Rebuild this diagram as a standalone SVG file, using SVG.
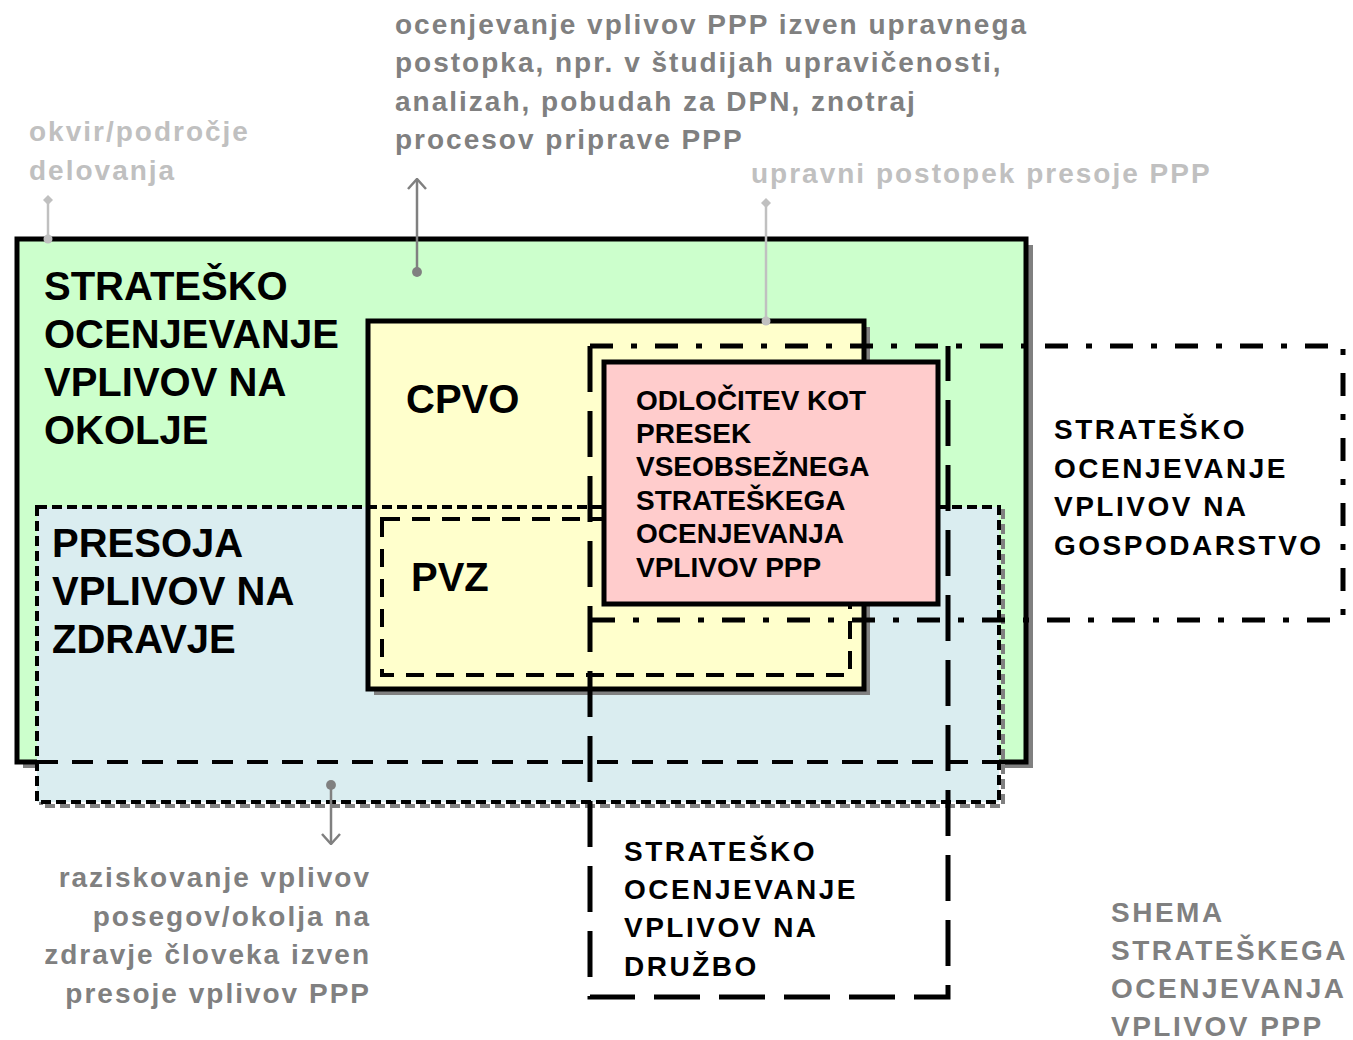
<svg xmlns="http://www.w3.org/2000/svg" width="1353" height="1040" viewBox="0 0 1353 1040">
<defs>
<style>
text{font-family:"Liberation Sans",Arial,sans-serif;font-weight:bold}
.big{font-size:40px;fill:#000}
.pink{font-size:28px;fill:#000}
.sp{font-size:28px;fill:#000;letter-spacing:2.5px}
.shema{font-size:28px;fill:#808080;letter-spacing:2.5px}
.note{font-size:28px;fill:#808080;letter-spacing:2px}
.note2{font-size:28px;fill:#C0C0C0;letter-spacing:2px}
.solid{stroke:#000;stroke-width:5}
.shadow{fill:#808080}
.c1{stroke:#C0C0C0;stroke-width:2.5;fill:none}
.c2{stroke:#808080;stroke-width:2.5;fill:none}
</style>
<marker id="dotL" viewBox="0 0 10 10" refX="5" refY="5" markerWidth="10" markerHeight="10" markerUnits="userSpaceOnUse"><circle cx="5" cy="5" r="4.5" fill="#C0C0C0"/></marker>
<marker id="diaL" viewBox="0 0 10 10" refX="5" refY="5" markerWidth="10" markerHeight="10" markerUnits="userSpaceOnUse"><path d="M5 0 L10 5 L5 10 L0 5 Z" fill="#C0C0C0"/></marker>
<marker id="dotD" viewBox="0 0 10 10" refX="5" refY="5" markerWidth="11" markerHeight="11" markerUnits="userSpaceOnUse"><circle cx="5" cy="5" r="4.5" fill="#808080"/></marker>
<marker id="arrD" viewBox="0 0 12 20" refX="11" refY="10" markerWidth="12" markerHeight="20" markerUnits="userSpaceOnUse" orient="auto"><path d="M1 1 L11 10 L1 19" fill="none" stroke="#808080" stroke-width="2.5"/></marker>
</defs>
<rect width="1353" height="1040" fill="#fff"/>

<g id="sovo">
<rect class="shadow" x="23" y="245" width="1010" height="523"/>
<rect x="17" y="239" width="1009" height="523" fill="#CCFFCC" class="solid"/>
</g>

<g id="pvz-area">
<rect x="41" y="511" width="962" height="295" fill="none" stroke="#808080" stroke-width="4" stroke-dasharray="10 5"/>
<rect x="37" y="507" width="962" height="295" fill="#DAEDF0"/>
<line x1="37" y1="762" x2="999" y2="762" stroke="#000" stroke-width="4" stroke-dasharray="21 14"/>
</g>

<g id="cpvo">
<rect class="shadow" x="374" y="327" width="496" height="368"/>
<rect x="368" y="321" width="496" height="368" fill="#FFFFCC" class="solid"/>
</g>

<g id="pvz-outline">
<rect x="37" y="507" width="962" height="295" fill="none" stroke="#000" stroke-width="4" stroke-dasharray="10 5"/>
</g>

<g id="pvz">
<rect x="382" y="519" width="468" height="156" fill="none" stroke="#000" stroke-width="4" stroke-dasharray="18 12"/>
</g>

<g id="odlocitev">
<rect x="604" y="362" width="334" height="242" fill="#FFCCCC" class="solid"/>
</g>

<g id="gospodarstvo">
<path d="M590 346 H1343 V620 H590" fill="none" stroke="#000" stroke-width="5" stroke-dasharray="23 18 6 18"/>
</g>

<g id="druzba">
<path d="M590 346 V997 H948 V346" fill="none" stroke="#000" stroke-width="5" stroke-dasharray="46 19"/>
</g>

<g id="connectors">
<line class="c1" x1="48" y1="239" x2="48" y2="200" marker-start="url(#dotL)" marker-end="url(#diaL)"/>
<line class="c1" x1="766" y1="321" x2="766" y2="203" marker-start="url(#dotL)" marker-end="url(#diaL)"/>
<line class="c2" x1="417" y1="272" x2="417" y2="179" marker-start="url(#dotD)" marker-end="url(#arrD)"/>
<line class="c2" x1="331" y1="785" x2="331" y2="844" marker-start="url(#dotD)" marker-end="url(#arrD)"/>
</g>

<g id="labels">
<text class="big" x="44" y="300">STRATEŠKO</text>
<text class="big" x="44" y="348">OCENJEVANJE</text>
<text class="big" x="44" y="396">VPLIVOV NA</text>
<text class="big" x="44" y="444">OKOLJE</text>

<text class="big" x="406" y="413">CPVO</text>

<text class="big" x="52" y="557">PRESOJA</text>
<text class="big" x="52" y="605">VPLIVOV NA</text>
<text class="big" x="52" y="653">ZDRAVJE</text>

<text class="big" x="411" y="591">PVZ</text>

<text class="pink" x="636" y="410">ODLOČITEV KOT</text>
<text class="pink" x="636" y="443">PRESEK</text>
<text class="pink" x="636" y="476">VSEOBSEŽNEGA</text>
<text class="pink" x="636" y="510">STRATEŠKEGA</text>
<text class="pink" x="636" y="543">OCENJEVANJA</text>
<text class="pink" x="636" y="577">VPLIVOV PPP</text>

<text class="sp" x="1054" y="439">STRATEŠKO</text>
<text class="sp" x="1054" y="478">OCENJEVANJE</text>
<text class="sp" x="1054" y="516">VPLIVOV NA</text>
<text class="sp" x="1054" y="555">GOSPODARSTVO</text>

<text class="sp" x="624" y="861">STRATEŠKO</text>
<text class="sp" x="624" y="899">OCENJEVANJE</text>
<text class="sp" x="624" y="937">VPLIVOV NA</text>
<text class="sp" x="624" y="976">DRUŽBO</text>

<text class="shema" x="1111" y="922">SHEMA</text>
<text class="shema" x="1111" y="960">STRATEŠKEGA</text>
<text class="shema" x="1111" y="998">OCENJEVANJA</text>
<text class="shema" x="1111" y="1036">VPLIVOV PPP</text>

<text class="note" x="395" y="34">ocenjevanje vplivov PPP izven upravnega</text>
<text class="note" x="395" y="72">postopka, npr. v študijah upravičenosti,</text>
<text class="note" x="395" y="111">analizah, pobudah za DPN, znotraj</text>
<text class="note" x="395" y="149">procesov priprave PPP</text>

<text class="note2" x="29" y="141">okvir/področje</text>
<text class="note2" x="29" y="180">delovanja</text>

<text class="note2" x="751" y="183">upravni postopek presoje PPP</text>

<text class="note" x="371" y="887" text-anchor="end">raziskovanje vplivov</text>
<text class="note" x="371" y="926" text-anchor="end">posegov/okolja na</text>
<text class="note" x="371" y="964" text-anchor="end">zdravje človeka izven</text>
<text class="note" x="371" y="1003" text-anchor="end">presoje vplivov PPP</text>
</g>
</svg>
